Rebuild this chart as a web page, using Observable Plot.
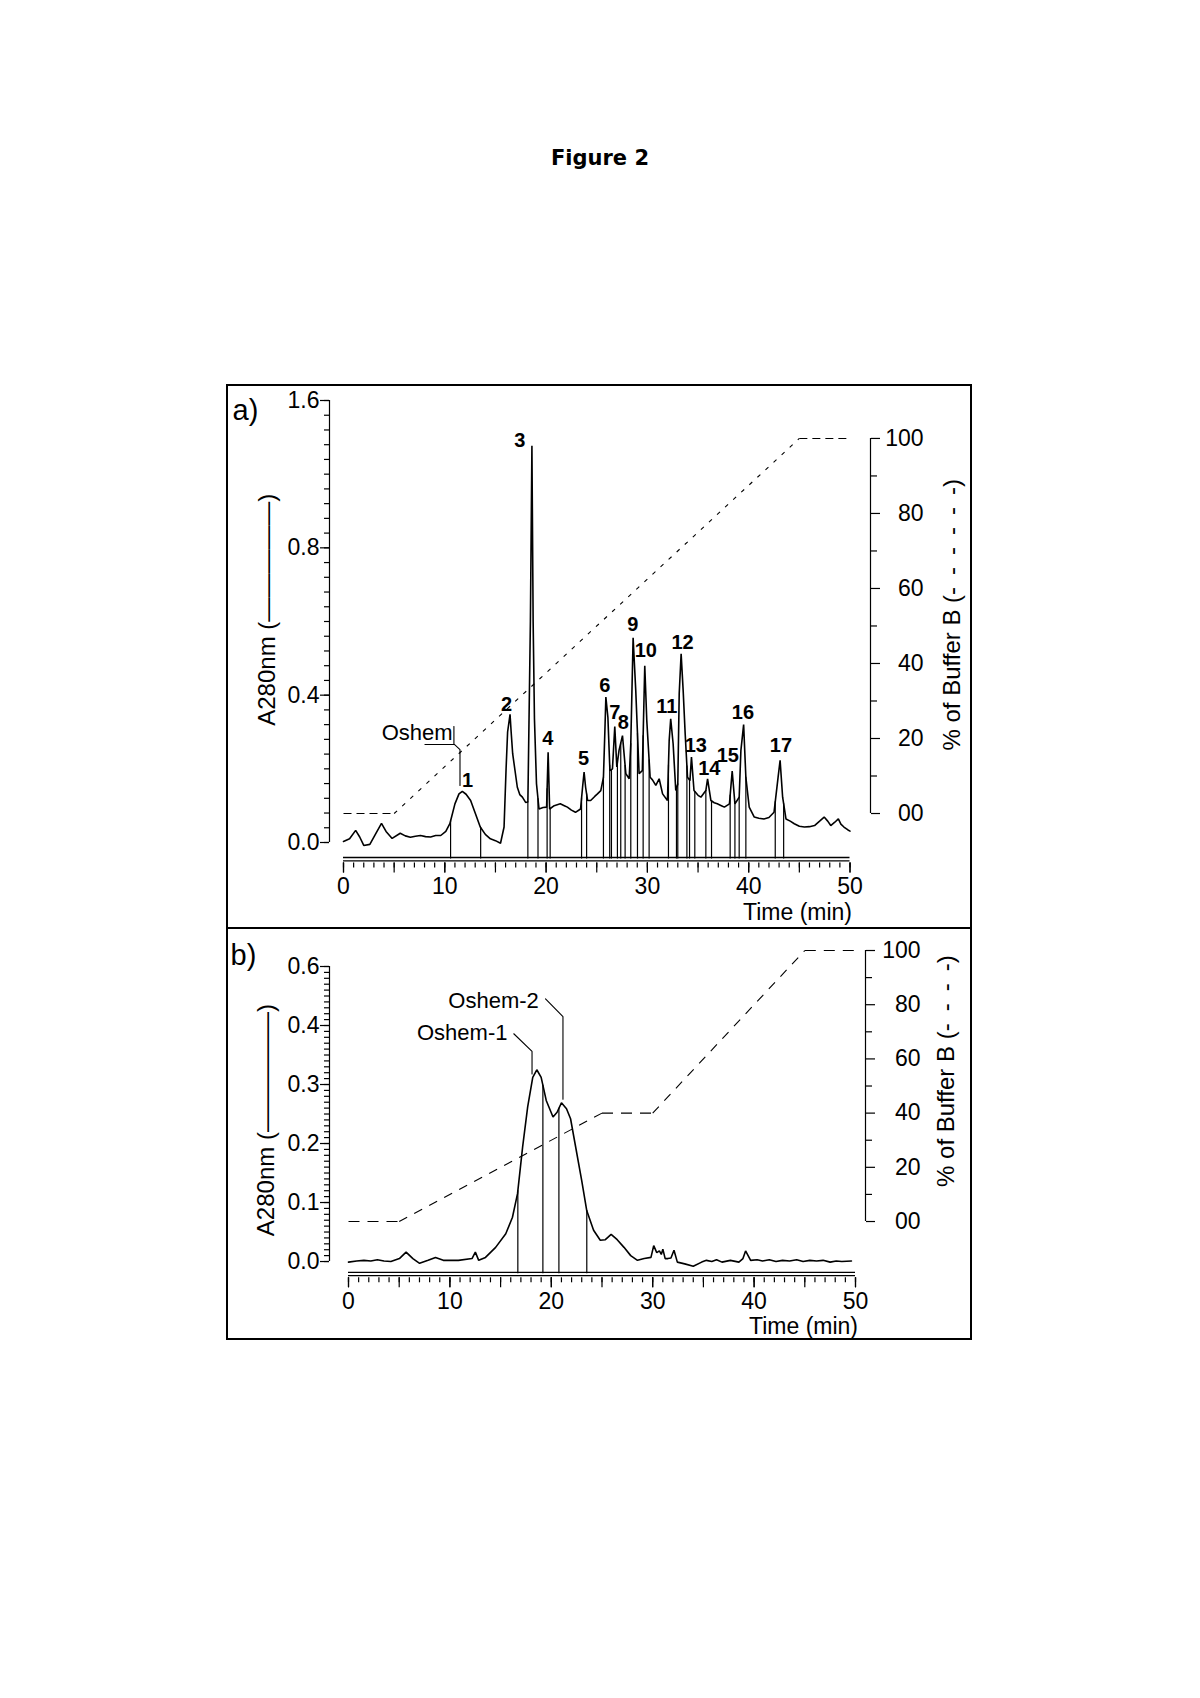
<!DOCTYPE html>
<html>
<head>
<meta charset="utf-8">
<script src="https://cdn.jsdelivr.net/npm/d3@7"></script>
<script src="https://cdn.jsdelivr.net/npm/@observablehq/plot@0.6"></script>
<style>
  html, body { margin: 0; padding: 0; background: #fff; }
  body { width: 1200px; height: 1698px; position: relative; overflow: hidden; }
  #title { position: absolute; left: 0; width: 1200px; top: 148px; text-align: center;
           font: bold 21px "DejaVu Sans", Verdana, sans-serif; line-height: 21px; color: #000; }
  #frame { position: absolute; left: 226px; top: 384px; width: 746px; height: 956px;
           border: 2px solid #000; box-sizing: border-box; }
  #divider { position: absolute; left: 226px; top: 927px; width: 746px; height: 2px; background: #000; }
  .panel { position: absolute; left: 227px; }
  #panelA { top: 385px; }
  #panelB { top: 928px; }
</style>
</head>
<body>
<div id="title">Figure 2</div>
<div id="frame"></div>
<div id="divider"></div>
<div id="panelA" class="panel"></div>
<div id="panelB" class="panel"></div>
<script>
// ---------------- DATA ----------------
// Panel a) chromatogram: time (min) and A280nm
const aTime = [0,0.6,1.2,1.6,2.0,2.6,3.2,3.75,4.2,4.8,5.6,6.1,6.6,7.1,7.6,8.1,8.6,9.1,9.6,10.1,10.5,11.0,11.4,11.73,12.1,12.55,13.0,13.5,14.0,14.5,15.0,15.5,15.85,16.05,16.2,16.44,16.55,16.7,17.16,17.4,17.66,17.98,18.2,18.45,18.6,18.72,18.85,19.05,19.3,19.7,20.05,20.2,20.35,20.8,21.4,21.8,22.1,22.5,22.9,23.4,23.6,23.75,23.9,24.1,24.4,24.8,25.07,25.4,25.66,25.8,25.9,26.1,26.3,26.55,26.78,26.98,27.2,27.54,27.87,28.2,28.36,28.59,28.85,29.18,29.5,29.74,29.94,30.27,30.5,30.83,31.16,31.5,31.98,32.15,32.3,32.54,32.8,33.0,33.14,33.33,33.53,33.73,33.96,34.2,34.35,34.6,35.0,35.28,35.77,35.94,36.27,36.6,36.9,37.3,37.6,38.1,38.37,38.64,39.06,39.23,39.5,39.72,40.05,40.55,41.0,41.5,42.0,42.5,42.9,43.1,43.35,43.68,44.1,44.5,45.0,45.5,46.0,46.5,47.0,47.45,47.8,48.1,48.5,48.85,49.1,49.4,49.8,50.0];
const aAbs  = [0.003,0.01,0.033,0.015,-0.008,-0.005,0.025,0.052,0.03,0.011,0.025,0.018,0.014,0.017,0.019,0.016,0.015,0.019,0.019,0.03,0.051,0.105,0.132,0.139,0.131,0.114,0.08,0.042,0.022,0.01,0.005,-0.002,0.042,0.2,0.3,0.348,0.3,0.241,0.15,0.13,0.123,0.109,0.11,0.6,1.077,0.6,0.336,0.16,0.091,0.095,0.096,0.245,0.091,0.1,0.105,0.1,0.096,0.088,0.082,0.091,0.15,0.191,0.15,0.114,0.114,0.125,0.132,0.141,0.177,0.3,0.395,0.34,0.195,0.2,0.315,0.205,0.25,0.29,0.187,0.173,0.268,0.556,0.413,0.187,0.195,0.48,0.331,0.177,0.17,0.155,0.173,0.132,0.114,0.277,0.336,0.268,0.141,0.159,0.404,0.512,0.413,0.295,0.177,0.168,0.232,0.141,0.128,0.123,0.141,0.173,0.114,0.108,0.105,0.1,0.096,0.105,0.194,0.105,0.123,0.25,0.32,0.177,0.096,0.069,0.066,0.064,0.068,0.082,0.177,0.223,0.123,0.064,0.058,0.051,0.044,0.042,0.043,0.046,0.058,0.069,0.058,0.046,0.055,0.064,0.05,0.042,0.034,0.031];
// fraction cut lines (min)
const aMarkers = [10.57,13.54,18.2,19.2,20.1,20.4,23.5,24.0,25.66,26.28,26.45,27.04,27.37,27.8,28.36,29.02,29.58,30.17,32.08,32.87,33.0,33.9,34.16,34.68,35.77,36.33,38.17,38.64,39.06,39.72,42.62,43.45];
// peak numbers and where they are written
const aPeakNames = ["1","2","3","4","5","6","7","8","9","10","11","12","13","14","15","16","17"];
const aPeakLabelTime = [12.25,16.09,17.4,20.16,23.7,25.79,26.78,27.62,28.56,29.84,31.92,33.47,34.78,36.11,37.94,39.43,43.18];
const aPeakLabelAbs  = [0.152,0.356,1.073,0.266,0.211,0.408,0.336,0.309,0.574,0.503,0.351,0.526,0.245,0.184,0.218,0.336,0.245];
// Oshem annotation (label + leader)
const aNoteText = "Oshem";
const aNoteTime = 10.77, aNoteAbs = 0.277;
const aLeaderGroup = [0,0,0,0,1,1];
const aLeaderTime  = [8.04,10.97,11.5,11.5,10.9,10.9];
const aLeaderAbs   = [0.266,0.266,0.252,0.155,0.315,0.266];
// Buffer B gradient (%)
const aGradTime = [0,5,45,50];
const aGradB    = [0,0,100,100];
const aYTicks = [0,0.4,0.8,1.2];
const aYTickLabels = ["0.0","0.4","0.8","1.6"];

// Panel b) chromatogram
const bTime = [0,0.8,1.52,2.2,2.85,3.5,4.18,5.02,5.68,6.35,7.01,7.85,8.58,9.35,10.84,12.18,12.51,12.84,13.51,14.51,15.51,16.17,16.67,17.17,17.67,18.17,18.57,19.0,19.5,20.17,20.57,21.0,21.5,21.9,22.34,23.0,23.5,24.17,24.83,25.33,25.9,26.5,27.17,27.83,28.5,29.16,29.83,30.1,30.4,30.66,30.85,31.0,31.23,31.5,31.8,32.1,32.43,33.16,34.0,34.83,35.3,35.83,36.3,36.83,37.66,38.5,38.9,39.16,39.66,40.3,40.83,41.5,42.16,42.8,43.5,44.2,44.83,45.5,46.16,46.8,47.5,48.1,48.65,49.6];
const bAbs  = [-0.001,0.001,0.002,0.001,0.003,0.001,0.0,0.005,0.016,0.005,-0.003,0.002,0.007,0.002,0.002,0.005,0.016,0.002,0.007,0.024,0.047,0.075,0.115,0.194,0.262,0.312,0.325,0.312,0.273,0.245,0.253,0.269,0.259,0.242,0.2,0.137,0.086,0.053,0.036,0.037,0.046,0.037,0.024,0.01,0.002,0.005,0.007,0.027,0.015,0.018,0.012,0.021,0.005,0.005,0.006,0.019,-0.001,-0.004,-0.008,-0.001,0.002,0.0,0.003,-0.001,0.002,-0.001,0.005,0.018,0.002,0.003,0.001,0.003,0.0,0.002,0.001,0.003,0.0,0.002,0.001,0.002,-0.001,0.001,0.0,0.001];
const bMarkers = [16.7,19.17,20.75,23.5];
const bNoteTexts = ["Oshem-1","Oshem-2"];
const bNoteTime  = [15.68,18.77];
const bNoteAbs   = [0.375,0.4305];
const bLeaderGroup = [0,0,0,1,1,1];
const bLeaderTime  = [16.3,18.1,18.1,19.43,21.15,21.15];
const bLeaderAbs   = [0.386,0.356,0.318,0.445,0.415,0.275];
const bGradTime = [0,5,25,30,45,50];
const bGradB    = [0,0,40,40,100,100];
const bYTicks = [0,0.1,0.2,0.3,0.4,0.5];
const bYTickLabels = ["0.0","0.1","0.2","0.3","0.4","0.6"];

// shared
const xTicks = [0,10,20,30,40,50];
const bufferTicks = [0,20,40,60,80,100];
const bufferTickLabels = ["00","20","40","60","80","100"];
const leftTitle = "A280nm (—————)";
const rightTitleA = "% of Buffer B (-\u2002-\u2002-\u2002-\u2002-\u2002-)";
const rightTitleB = "% of Buffer B (-\u2002-\u2002-\u2002-)";

// ---------------- DRAWING ----------------
const FONT = "'Liberation Sans', Arial, Helvetica, sans-serif";

function panel(cfg) {
  const curve = cfg.time.map((t, i) => ({t, a: cfg.abs[i]}));
  const interp = d3.scaleLinear().domain(cfg.time).range(cfg.abs);
  const toA = b => cfg.b0 + b * cfg.bk;
  const grad = cfg.gradTime.map((t, i) => ({t, b: cfg.gradB[i]}));
  const segs = d3.pairs(grad).map(([p, q]) => ({t1: p.t, t2: q.t, a1: toA(p.b), a2: toA(q.b), flat: p.b === q.b}));
  const yMin = cfg.yDomain[0];
  const x0 = xTicks[0], x1 = xTicks[xTicks.length - 1];
  const yTop = cfg.yTicks[cfg.yTicks.length - 1];
  const yStep = cfg.yTicks[1] / 10;
  const yMinor = d3.range(0, Math.round(yTop / yStep) + 1).map(i => i * yStep);
  const xMinor = d3.range(x0, x1 + 1, 1);
  const xMid = d3.range(x0, x1 + 1, 5);
  const bMinor = d3.range(10, 100, 20);
  const yLab = v => cfg.yTickLabels[cfg.yTicks.findIndex(u => Math.abs(u - v) < 1e-9)];
  const bLab = a => bufferTickLabels[bufferTicks.indexOf(Math.round((a - cfg.b0) / cfg.bk))];
  const leader = cfg.leaderTime.map((t, i) => ({t, a: cfg.leaderAbs[i], g: cfg.leaderGroup[i]}));
  const notes = cfg.noteTexts.map((s, i) => ({s, t: cfg.noteTime[i], a: cfg.noteAbs[i]}));

  const marks = [
    // double base line
    Plot.ruleY([yMin], {x1: x0, x2: x1, dy: -1.5, strokeWidth: 1.3}),
    Plot.ruleY([yMin], {x1: x0, x2: x1, dy: 1.8, strokeWidth: 1.3}),
    Plot.axisX({ticks: xMinor, tickSize: 5, dy: 4, tickFormat: () => "", strokeWidth: 1.2}),
    Plot.axisX({ticks: xMid, tickSize: 10, dy: 4, tickFormat: () => "", strokeWidth: 1.2}),
    Plot.axisX({ticks: xTicks, tickSize: 10, dy: 4, tickPadding: 5, fontSize: 23, strokeWidth: 1.2}),
    // left axis
    Plot.ruleX([x0], {y1: cfg.yTicks[0], y2: yTop, dx: cfg.leftDx, strokeWidth: 1.2}),
    Plot.axisY({ticks: yMinor, tickSize: 5, dx: cfg.leftDx, tickFormat: () => "", strokeWidth: 1.2}),
    Plot.axisY({ticks: cfg.yTicks, tickSize: 9, tickPadding: 1, dx: cfg.leftDx, tickFormat: yLab, fontSize: 23, strokeWidth: 1.2}),
    // right axis (% Buffer B)
    Plot.ruleX([x1], {y1: toA(bufferTicks[0]), y2: toA(bufferTicks[bufferTicks.length - 1]), dx: cfg.rightDx, strokeWidth: 1.2}),
    Plot.axisY({anchor: "right", ticks: bMinor.map(toA), tickSize: 6, dx: cfg.rightDx, tickFormat: () => "", strokeWidth: 1.2}),
    Plot.axisY({anchor: "right", ticks: bufferTicks.map(toA), tickSize: 9, dx: cfg.rightDx, tickPadding: cfg.rightPad,
                textAnchor: "end", tickFormat: bLab, fontSize: 23, strokeWidth: 1.2}),
    // gradient
    Plot.link(segs.filter(s => s.flat), {x1: "t1", y1: "a1", x2: "t2", y2: "a2", strokeWidth: 1.1, strokeDasharray: cfg.flatDash}),
    Plot.link(segs.filter(s => !s.flat), {x1: "t1", y1: "a1", x2: "t2", y2: "a2", strokeWidth: 1.1, strokeDasharray: cfg.slopeDash}),
    // fraction lines
    Plot.ruleX(cfg.markers, {x: d => d, y1: yMin, y2: d => interp(d), strokeWidth: 1.2}),
    // chromatogram
    Plot.line(curve, {x: "t", y: "a", strokeWidth: 1.6, strokeLinejoin: "miter"}),
    // annotation
    Plot.line(leader, {x: "t", y: "a", z: "g", strokeWidth: 1.1}),
    Plot.text(notes, {x: "t", y: "a", text: "s", textAnchor: "end", lineAnchor: "bottom", fontSize: 22}),
    // titles
    Plot.text([cfg.panelLabel], {frameAnchor: "top-left", text: d => d, textAnchor: "start", lineAnchor: "bottom", fontSize: 29, dx: cfg.panelDx, dy: cfg.panelDy}),
    Plot.text([leftTitle], {frameAnchor: "left", text: d => d, textAnchor: "middle", rotate: -90, fontSize: 24, dx: cfg.leftTitleDx, dy: cfg.leftTitleDy}),
    Plot.text([cfg.rightTitle], {frameAnchor: "right", text: d => d, textAnchor: "middle", rotate: -90, fontSize: 24, dx: cfg.rightTitleDx, dy: cfg.rightTitleDy}),
    Plot.text(["Time (min)"], {frameAnchor: "bottom-right", text: d => d, textAnchor: "middle", lineAnchor: "bottom", fontSize: 23, dx: cfg.timeDx, dy: cfg.timeDy})
  ];
  if (cfg.peaks) {
    const peaks = cfg.peaks.names.map((s, i) => ({s, t: cfg.peaks.time[i], a: cfg.peaks.abs[i]}));
    marks.push(Plot.text(peaks, {x: "t", y: "a", text: "s", lineAnchor: "bottom", fontWeight: "bold", fontSize: 20}));
  }
  return Plot.plot({
    width: 744, height: cfg.height,
    marginLeft: cfg.ml, marginRight: cfg.mr, marginTop: cfg.mt, marginBottom: cfg.mb,
    x: {domain: [x0, x1], axis: null},
    y: {domain: cfg.yDomain, axis: null},
    style: {fontFamily: FONT, fontSize: "22px", color: "#000", background: "transparent", overflow: "visible"},
    marks
  });
}

document.getElementById("panelA").append(panel({
  time: aTime, abs: aAbs, markers: aMarkers,
  peaks: {names: aPeakNames, time: aPeakLabelTime, abs: aPeakLabelAbs},
  noteTexts: [aNoteText], noteTime: [aNoteTime], noteAbs: [aNoteAbs],
  leaderTime: aLeaderTime, leaderAbs: aLeaderAbs, leaderGroup: aLeaderGroup,
  gradTime: aGradTime, gradB: aGradB, b0: 0.0787, bk: 0.010183,
  yTicks: aYTicks, yTickLabels: aYTickLabels, yDomain: [-0.0448, 1.2],
  height: 543, ml: 116, mr: 121.5, mt: 15, mb: 69.5,
  leftDx: -14, rightDx: 20.5, rightPad: 44,
  flatDash: "8,5", slopeDash: "4,7",
  panelLabel: "a)", panelDx: -111, panelDy: 19,
  leftTitleDx: -76, leftTitleDy: -20,
  rightTitle: rightTitleA, rightTitleDx: 102.5, rightTitleDy: -15,
  timeDx: -52.5, timeDy: 61
}));

document.getElementById("panelB").append(panel({
  time: bTime, abs: bAbs, markers: bMarkers, peaks: null,
  noteTexts: bNoteTexts, noteTime: bNoteTime, noteAbs: bNoteAbs,
  leaderTime: bLeaderTime, leaderAbs: bLeaderAbs, leaderGroup: bLeaderGroup,
  gradTime: bGradTime, gradB: bGradB, b0: 0.0678, bk: 0.004593,
  yTicks: bYTicks, yTickLabels: bYTickLabels, yDomain: [-0.0208, 0.5],
  height: 411, ml: 121, mr: 116, mt: 38, mb: 65.7,
  leftDx: -19, rightDx: 10, rightPad: 46,
  flatDash: "11,8", slopeDash: "9,8",
  panelLabel: "b)", panelDx: -118, panelDy: -2,
  leftTitleDx: -82, leftTitleDy: 0,
  rightTitle: rightTitleB, rightTitleDx: 91, rightTitleDy: -49,
  timeDx: -52, timeDy: 60
}));
</script>
</body>
</html>
